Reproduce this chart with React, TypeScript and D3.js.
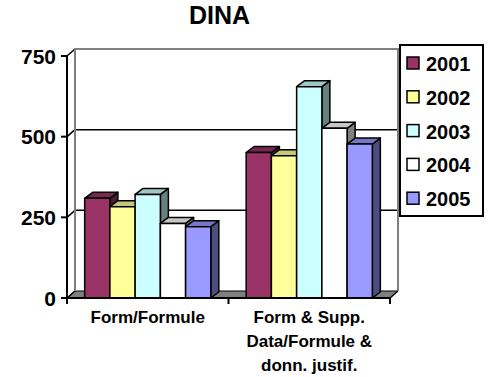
import React from "react";
import * as d3 from "d3";

const title = "DINA";
const categories = ["Form/Formule", "Form & Supp.|Data/Formule &|donn. justif."];
const seriesNames = ["2001", "2002", "2003", "2004", "2005"];
const seriesColors = ["#993366", "#FFFF99", "#CCFFFF", "#FFFFFF", "#9999FF"];
const values2001 = [309, 451];
const values2002 = [283, 441];
const values2003 = [321, 655];
const values2004 = [231, 526];
const values2005 = [221, 477];
const yTicks = [0, 250, 500, 750];

const seriesValues = [values2001, values2002, values2003, values2004, values2005];

const W = 490;
const H = 377;
const FONT = "'Liberation Sans', Arial, sans-serif";

function shade(c: string, k: number) {
  const col = d3.rgb(c);
  return d3.rgb(col.r * k, col.g * k, col.b * k).formatHex();
}

export default function App() {
  const x0 = 67, x1 = 390;
  const yBase = 298, yTop = 56;
  const wdx = 8, wdy = -7;
  const bdx = 8, bdy = -6;

  const y = d3.scaleLinear().domain([0, 750]).range([yBase, yTop]);
  const xCat = d3.scaleBand<string>().domain(categories).range([x0, x1]).padding(0);
  const xSer = d3
    .scaleBand<string>()
    .domain(seriesNames)
    .range([0, xCat.bandwidth()])
    .paddingInner(0)
    .paddingOuter(0.7);

  const bw = xSer.bandwidth();

  const bars: React.ReactNode[] = [];
  categories.forEach((cat, ci) => {
    seriesNames.forEach((s, si) => {
      const v = seriesValues[si][ci];
      const xl = (xCat(cat) as number) + (xSer(s) as number);
      const xr = xl + bw;
      const yt = y(v);
      const yb = y(0);
      const col = seriesColors[si];
      const top = `${xl},${yt} ${xl + bdx},${yt + bdy} ${xr + bdx},${yt + bdy} ${xr},${yt}`;
      const side = `${xr},${yt} ${xr + bdx},${yt + bdy} ${xr + bdx},${yb + bdy} ${xr},${yb}`;
      bars.push(
        <g key={`${ci}-${si}`} stroke="#000" strokeWidth={1.5} strokeLinejoin="round">
          <polygon points={side} fill={shade(col, 0.5)} />
          <polygon points={top} fill={shade(col, 0.78)} />
          <rect x={xl} y={yt} width={bw} height={yb - yt} fill={col} />
        </g>
      );
    });
  });

  const bx0 = x0 + wdx, bx1 = x1 + wdx;

  return (
    <svg
      width={W}
      height={H}
      style={{ position: "absolute", left: 0, top: 0, background: "#fff" }}
      fontFamily={FONT}
    >
      <rect x={0} y={0} width={W} height={H} fill="#fff" />
      <text x={219.5} y={24} textAnchor="middle" fontSize={25} fontWeight="bold">
        {title}
      </text>

      {/* floor */}
      <polygon
        points={`${x0},${yBase} ${bx0},${yBase + wdy} ${bx1},${yBase + wdy} ${x1},${yBase}`}
        fill="#808080"
        stroke="#000"
        strokeWidth={1}
      />

      {/* gridlines */}
      {yTicks.map((t) => (
        <g key={t}>
          <line x1={x0} y1={y(t)} x2={bx0} y2={y(t) + wdy} stroke="#000" strokeWidth={1.5} />
          {t > 0 && t < 750 && (
            <line x1={bx0} y1={y(t) + wdy} x2={bx1} y2={y(t) + wdy} stroke="#000" strokeWidth={1.5} />
          )}
        </g>
      ))}

      {/* back wall edges */}
      <polyline
        points={`${bx0},${yBase + wdy} ${bx0},${yTop + wdy} ${bx1},${yTop + wdy} ${bx1},${yBase + wdy}`}
        fill="none"
        stroke="#808080"
        strokeWidth={2}
      />
      <line x1={x1} y1={yBase} x2={bx1} y2={yBase + wdy} stroke="#000" strokeWidth={1.2} />

      {bars}

      {/* axes */}
      <line x1={x0} y1={yTop} x2={x0} y2={yBase} stroke="#000" strokeWidth={2} />
      <line x1={x0} y1={yBase} x2={x1} y2={yBase} stroke="#000" strokeWidth={2} />
      {yTicks.map((t) => (
        <g key={`yt${t}`}>
          <line x1={x0 - 6} y1={y(t)} x2={x0} y2={y(t)} stroke="#000" strokeWidth={2} />
          <text
            x={56}
            y={y(t)}
            dy="0.36em"
            textAnchor="end"
            fontSize={21}
            fontWeight="bold"
          >
            {t}
          </text>
        </g>
      ))}
      {[x0, ...categories.map((c) => (xCat(c) as number) + xCat.bandwidth())].map((xv, i) => (
        <line key={`xt${i}`} x1={xv} y1={yBase} x2={xv} y2={yBase + 6} stroke="#000" strokeWidth={2} />
      ))}
      {categories.map((c) => {
        const lines = c.split("|");
        const cx = (xCat(c) as number) + xCat.bandwidth() / 2;
        return (
          <text key={c} textAnchor="middle" fontSize={17} fontWeight="bold">
            {lines.map((ln, i) => (
              <tspan key={i} x={cx} y={323 + i * 23.8}>
                {ln}
              </tspan>
            ))}
          </text>
        );
      })}

      {/* legend */}
      <rect x={400} y={45} width={83} height={171} fill="#fff" stroke="#000" strokeWidth={2} />
      {seriesNames.map((s, i) => {
        const by = 71 + i * 33.8;
        return (
          <g key={s}>
            <rect x={407} y={by - 14} width={12} height={12} fill={seriesColors[i]} stroke="#000" strokeWidth={1.5} />
            <text x={426} y={by} fontSize={20} fontWeight="bold">
              {s}
            </text>
          </g>
        );
      })}
    </svg>
  );
}
